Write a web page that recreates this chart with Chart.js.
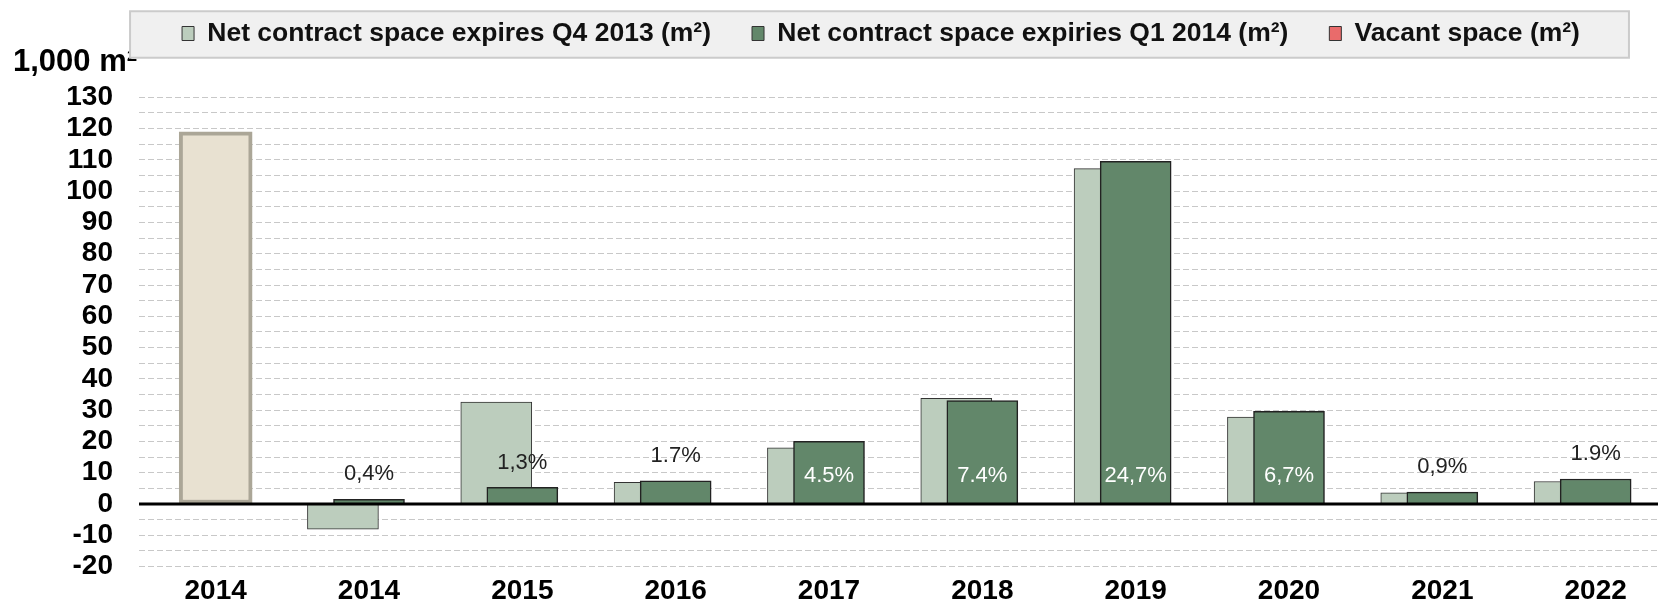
<!DOCTYPE html>
<html>
<head>
<meta charset="utf-8">
<script src="https://cdn.jsdelivr.net/npm/chart.js@4.4.1/dist/chart.umd.min.js"></script>
<style>
  html, body { margin: 0; padding: 0; background: #fff; overflow: hidden; }
</style>
</head>
<body>
<canvas id="barChart" width="1749" height="607"></canvas>
<script>
// categorie (asse x)
var categories = ['2014', '2014', '2015', '2016', '2017', '2018', '2019', '2020', '2021', '2022'];
// valori in 1,000 m2
var vacantSpace = [119, null, null, null, null, null, null, null, null, null];
var expiresQ4_2013 = [null, -8.0, 32.6, 6.9, 18.0, 33.8, 107.2, 27.8, 3.6, 7.2];
var expiriesQ1_2014 = [null, 1.5, 5.3, 7.4, 20.0, 33.1, 109.5, 29.6, 3.8, 8.0];
// etichette % sopra / dentro le barre scure
var vacancyLabels = ['', '0,4%', '1,3%', '1.7%', '4.5%', '7.4%', '24,7%', '6,7%', '0,9%', '1.9%'];
var seriesNames = ['Net contract space expires Q4 2013 (m²)', 'Net contract space expiries Q1 2014 (m²)', 'Vacant space (m²)'];
var unitLabel = '1,000 m²';

// stile
var swatchColors = ['#bccdbd', '#62876a', '#e96b6b'];
var lightShift = 0.17; // la barra chiara sta un po' a sinistra di quella scura
var fontFamily = '"Liberation Sans", Arial, sans-serif';

Chart.defaults.font.family = fontFamily;

function toPoints(values, shift) {
  return values.map(function(v, i) {
    return { x: i + shift, y: v };
  });
}

// linea dello zero, etichette % e riquadro della legenda
var decorations = {
  id: 'decorations',
  afterDatasetsDraw: function(chart) {
    var ctx = chart.ctx;
    var area = chart.chartArea;
    var y0 = chart.scales.y.getPixelForValue(0);
    ctx.save();
    ctx.strokeStyle = '#000';
    ctx.lineWidth = 3;
    ctx.beginPath();
    ctx.moveTo(area.left, y0);
    ctx.lineTo(area.right, y0);
    ctx.stroke();

    ctx.font = '22px ' + fontFamily;
    ctx.textAlign = 'center';
    ctx.textBaseline = 'middle';
    chart.getDatasetMeta(1).data.forEach(function(bar, i) {
      if (!vacancyLabels[i]) return;
      if (expiriesQ1_2014[i] > 15) {
        ctx.fillStyle = '#ffffff';
        ctx.fillText(vacancyLabels[i], bar.x, bar.base - 28);
      } else {
        ctx.fillStyle = '#222222';
        ctx.fillText(vacancyLabels[i], bar.x, bar.y - 25);
      }
    });
    ctx.restore();
  },
  // il riquadro grigio copre la fine del titolo, poi si ridisegna la legenda sopra
  afterDraw: function(chart) {
    var ctx = chart.ctx;
    var boxes = chart.legend.legendHitBoxes;
    var first = boxes[0];
    var last = boxes[boxes.length - 1];
    var left = first.left - 52;
    var right = last.left + last.width + 49;
    var top = first.top - 9;
    var bottom = first.top + first.height + 11;
    ctx.save();
    ctx.fillStyle = '#f0f0f0';
    ctx.fillRect(left, top, right - left, bottom - top);
    ctx.strokeStyle = '#cbcbcb';
    ctx.lineWidth = 2;
    ctx.strokeRect(left, top, right - left, bottom - top);
    ctx.restore();
    chart.legend.draw();
  }
};

var ctx = document.getElementById('barChart').getContext('2d');
new Chart(ctx, {
  type: 'bar',
  data: {
    datasets: [{
      label: seriesNames[0],
      data: toPoints(expiresQ4_2013, -lightShift),
      backgroundColor: '#bccdbd',
      borderColor: '#333333',
      borderWidth: 1,
      barThickness: 71,
      order: 2
    }, {
      label: seriesNames[1],
      data: toPoints(expiriesQ1_2014, 0),
      backgroundColor: '#62876a',
      borderColor: '#222222',
      borderWidth: 1.5,
      barThickness: 71,
      order: 1
    }, {
      label: seriesNames[2],
      data: toPoints(vacantSpace, 0),
      backgroundColor: '#e8e1d1',
      borderColor: '#aba697',
      borderWidth: 4,
      borderSkipped: false,
      barThickness: 73,
      order: 0
    }]
  },
  options: {
    responsive: false,
    animation: false,
    events: [],
    layout: { padding: { left: 13, top: -20.75, right: 0, bottom: 0 } },
    scales: {
      x: {
        type: 'linear',
        min: -0.5,
        max: 10,
        offset: false,
        stacked: true,
        grid: { display: false, offset: false },
        border: { display: false },
        afterBuildTicks: function(scale) {
          scale.ticks = categories.map(function(c, i) { return { value: i }; });
        },
        afterFit: function(scale) { scale.height = 40.4; },
        ticks: {
          autoSkip: false,
          maxRotation: 0,
          padding: 3,
          color: '#000',
          font: { size: 28, weight: 'bold', lineHeight: 1 },
          callback: function(value) { return categories[value]; }
        }
      },
      y: {
        min: -20,
        max: 130,
        stacked: false,
        afterFit: function(scale) { scale.width = 126; },
        grid: { color: '#c8c8c8', lineWidth: 1, drawTicks: false },
        border: { display: false, dash: [6, 3] },
        ticks: {
          stepSize: 5,
          autoSkip: false,
          padding: 26,
          color: '#000',
          font: { size: 28, weight: 'bold', lineHeight: 1 },
          callback: function(value) { return value % 10 === 0 ? value : ''; }
        }
      }
    },
    plugins: {
      tooltip: { enabled: false },
      legend: {
        position: 'top',
        labels: {
          color: '#111',
          boxWidth: 12,
          boxHeight: 14,
          padding: 41,
          font: { size: 26.5, weight: 'bold', lineHeight: 1 },
          sort: function(a, b) { return a.datasetIndex - b.datasetIndex; },
          generateLabels: function(chart) {
            var items = Chart.defaults.plugins.legend.labels.generateLabels(chart);
            items.forEach(function(item) {
              item.fillStyle = swatchColors[item.datasetIndex];
              item.strokeStyle = '#333333';
              item.lineWidth = 1;
            });
            return items;
          }
        }
      },
      title: {
        display: true,
        text: unitLabel,
        align: 'start',
        weight: 500,
        color: '#000',
        font: { size: 31, weight: 'bold', lineHeight: 1 },
        padding: { top: -9.75, bottom: 19.3 }
      }
    }
  },
  plugins: [decorations]
});
</script>
</body>
</html>
